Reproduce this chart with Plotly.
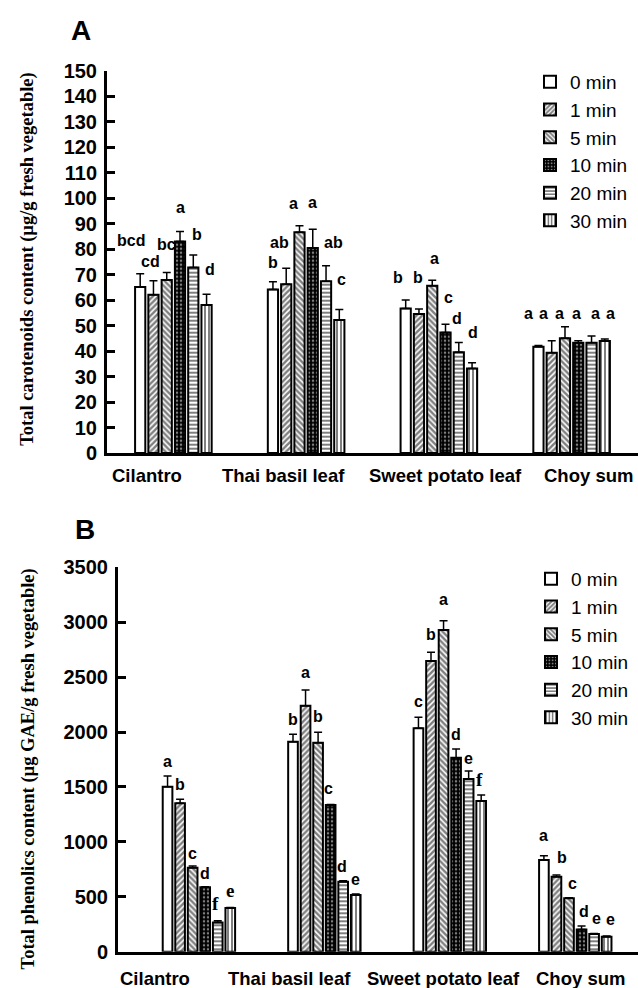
import plotly.graph_objects as go

# ---------------- data ----------------
categories = ["Cilantro", "Thai basil leaf", "Sweet potato leaf", "Choy sum"]
series_names = ["0 min", "1 min", "5 min", "10 min", "20 min", "30 min"]

# Panel A: total carotenoids content (µg/g fresh vegetable)
car_0 = [65.1, 64.2, 56.7, 41.7]
car_1 = [62.1, 66.2, 54.5, 39.3]
car_5 = [67.9, 86.6, 65.6, 45.0]
car_10 = [83.0, 80.4, 47.3, 43.3]
car_20 = [72.8, 67.4, 39.5, 43.3]
car_30 = [58.1, 52.2, 33.2, 43.9]
car_err_0 = [5.2, 3.0, 3.3, 0.5]
car_err_1 = [5.5, 6.3, 2.0, 4.7]
car_err_5 = [2.9, 2.6, 2.2, 4.5]
car_err_10 = [3.9, 7.4, 3.2, 0.7]
car_err_20 = [4.9, 6.1, 3.9, 2.6]
car_err_30 = [4.2, 4.1, 2.2, 0.8]
car_letters_0 = ["bcd", "b", "b", "a"]
car_letters_1 = ["cd", "ab", "b", "a"]
car_letters_5 = ["bc", "a", "a", "a"]
car_letters_10 = ["a", "a", "c", "a"]
car_letters_20 = ["b", "ab", "d", "a"]
car_letters_30 = ["d", "c", "d", "a"]

# Panel B: total phenolics content (µg GAE/g fresh vegetable)
phe_0 = [1503, 1912, 2034, 835]
phe_1 = [1351, 2240, 2647, 683]
phe_5 = [765, 1903, 2929, 486]
phe_10 = [586, 1336, 1767, 203]
phe_20 = [267, 637, 1572, 161]
phe_30 = [398, 516, 1372, 137]
phe_err_0 = [97, 67, 100, 39]
phe_err_1 = [36, 143, 79, 15]
phe_err_5 = [15, 94, 85, 5]
phe_err_10 = [5, 5, 79, 30]
phe_err_20 = [15, 10, 73, 5]
phe_err_30 = [5, 10, 55, 5]
phe_letters_0 = ["a", "b", "c", "a"]
phe_letters_1 = ["b", "a", "b", "b"]
phe_letters_5 = ["c", "b", "a", "c"]
phe_letters_10 = ["d", "c", "d", "d"]
phe_letters_20 = ["f", "d", "e", "e"]
phe_letters_30 = ["e", "e", "f", "e"]

car_vals = [car_0, car_1, car_5, car_10, car_20, car_30]
car_errs = [car_err_0, car_err_1, car_err_5, car_err_10, car_err_20, car_err_30]
car_lets = [car_letters_0, car_letters_1, car_letters_5, car_letters_10, car_letters_20, car_letters_30]
phe_vals = [phe_0, phe_1, phe_5, phe_10, phe_20, phe_30]
phe_errs = [phe_err_0, phe_err_1, phe_err_5, phe_err_10, phe_err_20, phe_err_30]
phe_lets = [phe_letters_0, phe_letters_1, phe_letters_5, phe_letters_10, phe_letters_20, phe_letters_30]

# ---------------- styles ----------------
SANS = "Liberation Sans"
SERIF = "Liberation Serif"
BARGAP = 0.4
patterns = [
    dict(shape="", bgcolor="white", fgcolor="black"),
    dict(shape="/", fgcolor="black", bgcolor="white", size=4, solidity=0.62),
    dict(shape="\\", fgcolor="black", bgcolor="white", size=4, solidity=0.62),
    dict(shape=".", fgcolor="white", bgcolor="black", size=4, solidity=0.3),
    dict(shape="-", fgcolor="black", bgcolor="white", size=4, solidity=0.5),
    dict(shape="|", fgcolor="black", bgcolor="white", size=4, solidity=0.5),
]

# pixel nudges (dx, dy-up) of the significance letters, per series and category
nudge_a = [
    [(-9, 23), (0, 9), (-8, 12), (-10, 21)],
    [(-3, 9), (-7, 15), (-1, 21), (-8, 17)],
    [(0, 18), (-6, 12), (2, 11), (-5, 3)],
    [(0, 14), (0, 16), (3, 16), (-2, 17)],
    [(4, 10), (7, 13), (-2, 13), (4, 12)],
    [(3, 14), (2, 20), (1, 20), (6, 15)],
]
nudge_b = [
    [(0, 4), (0, 4), (0, 5), (0, 10)],
    [(0, 4), (0, 7), (0, 7), (6, 7)],
    [(0, 2), (0, 5), (0, 11), (3, 4)],
    [(0, 3), (-2, 5), (0, 4), (2, 4)],
    [(-2, 5), (-1, 4), (0, 2), (2, 4)],
    [(0, 4), (0, 4), (-2, 3), (4, 6)],
]
serif_b = {(4, 0), (5, 0), (5, 2)}

fig = go.Figure()

def add_panel(vals, errs, xa, ya, legend):
    for j, name in enumerate(series_names):
        fig.add_trace(go.Bar(
            x=categories, y=vals[j], name=name,
            xaxis=xa, yaxis=ya, legend=legend,
            marker=dict(color="white", pattern=patterns[j],
                        line=dict(color="black", width=2)),
            error_y=dict(type="data", array=errs[j], arrayminus=[0] * len(errs[j]),
                         symmetric=False, color="black", thickness=1.5, width=4),
        ))

add_panel(car_vals, car_errs, "x", "y", "legend")
add_panel(phe_vals, phe_errs, "x2", "y2", "legend2")

annotations = []
slot = (1 - BARGAP) / len(series_names)

def add_letters(vals, errs, lets, xref, yref, nudge, serif=set()):
    for j in range(len(series_names)):
        off = -(1 - BARGAP) / 2 + (j + 0.5) * slot
        for i in range(len(categories)):
            dx, dy = nudge[j][i]
            fam = SERIF if (j, i) in serif else SANS
            annotations.append(dict(
                x=i + off, y=vals[j][i] + errs[j][i], xref=xref, yref=yref,
                text=lets[j][i], showarrow=False, yanchor="bottom", xanchor="center",
                xshift=dx, yshift=dy,
                font=dict(family=fam, size=16 if fam == SANS else 19,
                          weight="bold", color="black")))

add_letters(car_vals, car_errs, car_lets, "x", "y", nudge_a)
add_letters(phe_vals, phe_errs, phe_lets, "x2", "y2", nudge_b, serif_b)

# category labels (placed like the original, slightly off-centre)
cat_shift_a = [-0.2, -0.17, 0.05, 0.13]
cat_shift_b = [-0.35, -0.28, -0.05, 0.04]
CAT_FONT = dict(family=SANS, size=18.5, weight="bold", color="black")
for i, c in enumerate(categories):
    annotations.append(dict(x=i + cat_shift_a[i], y=0, xref="x", yref="y domain",
                            text=c, showarrow=False, yanchor="middle", yshift=-22,
                            font=CAT_FONT))
    annotations.append(dict(x=i + cat_shift_b[i], y=0, xref="x2", yref="y2 domain",
                            text=c, showarrow=False, yanchor="middle", yshift=-27,
                            font=CAT_FONT))

# axis titles and panel letters
annotations += [
    dict(x=28 / 638, y=0.5, xref="paper", yref="y domain", yshift=3,
         text="Total carotenoids content (µg/g fresh vegetable)", textangle=-90,
         showarrow=False, xanchor="center", yanchor="middle",
         font=dict(family=SERIF, size=18.5, weight="bold", color="black")),
    dict(x=28 / 638, y=0.5, xref="paper", yref="y2 domain", yshift=-10,
         text="Total phenolics content (µg GAE/g fresh vegetable)", textangle=-90,
         showarrow=False, xanchor="center", yanchor="middle",
         font=dict(family=SERIF, size=18.5, weight="bold", color="black")),
    dict(x=81 / 638, y=1 - 30 / 988, xref="paper", yref="paper", text="A",
         showarrow=False, xanchor="center", yanchor="middle",
         font=dict(family=SANS, size=28, weight="bold", color="black")),
    dict(x=85 / 638, y=1 - 529 / 988, xref="paper", yref="paper", text="B",
         showarrow=False, xanchor="center", yanchor="middle",
         font=dict(family=SANS, size=28, weight="bold", color="black")),
]

xax = dict(showline=True, linewidth=3, linecolor="black", ticks="", showticklabels=False,
           showgrid=False, zeroline=False, fixedrange=True)
yax = dict(showline=True, linewidth=3, linecolor="black", ticks="inside", ticklen=8,
           tickwidth=3, tickcolor="black", showgrid=False, zeroline=False,
           tickfont=dict(family=SANS, size=20, weight="bold", color="black"),
           ticklabelstandoff=3, automargin=False)

leg = dict(bgcolor="rgba(0,0,0,0)", borderwidth=0, xanchor="left", yanchor="top",
           font=dict(family=SANS, size=19, color="black"), tracegroupgap=0)

fig.update_layout(
    width=638, height=988,
    margin=dict(l=0, r=0, t=0, b=0, autoexpand=False),
    paper_bgcolor="white", plot_bgcolor="white",
    barmode="group", bargap=BARGAP, bargroupgap=0.23,
    xaxis=dict(xax, domain=[107 / 638, 1.0], anchor="y"),
    yaxis=dict(yax, domain=[1 - 453 / 988, 1 - 70.7 / 988], range=[0, 150], dtick=10, anchor="x"),
    xaxis2=dict(xax, domain=[118 / 638, 1.0], anchor="y2"),
    yaxis2=dict(yax, domain=[1 - 951.7 / 988, 1 - 567.3 / 988], range=[0, 3500], dtick=500, anchor="x2"),
    legend=dict(leg, x=530 / 638, y=1 - 63 / 988),
    legend2=dict(leg, x=531 / 638, y=1 - 560 / 988),
    annotations=annotations,
    showlegend=True,
)

fig.write_html("out.html", config={"displayModeBar": False},
               post_script="document.body.style.margin='0';document.body.style.overflow='hidden';")
